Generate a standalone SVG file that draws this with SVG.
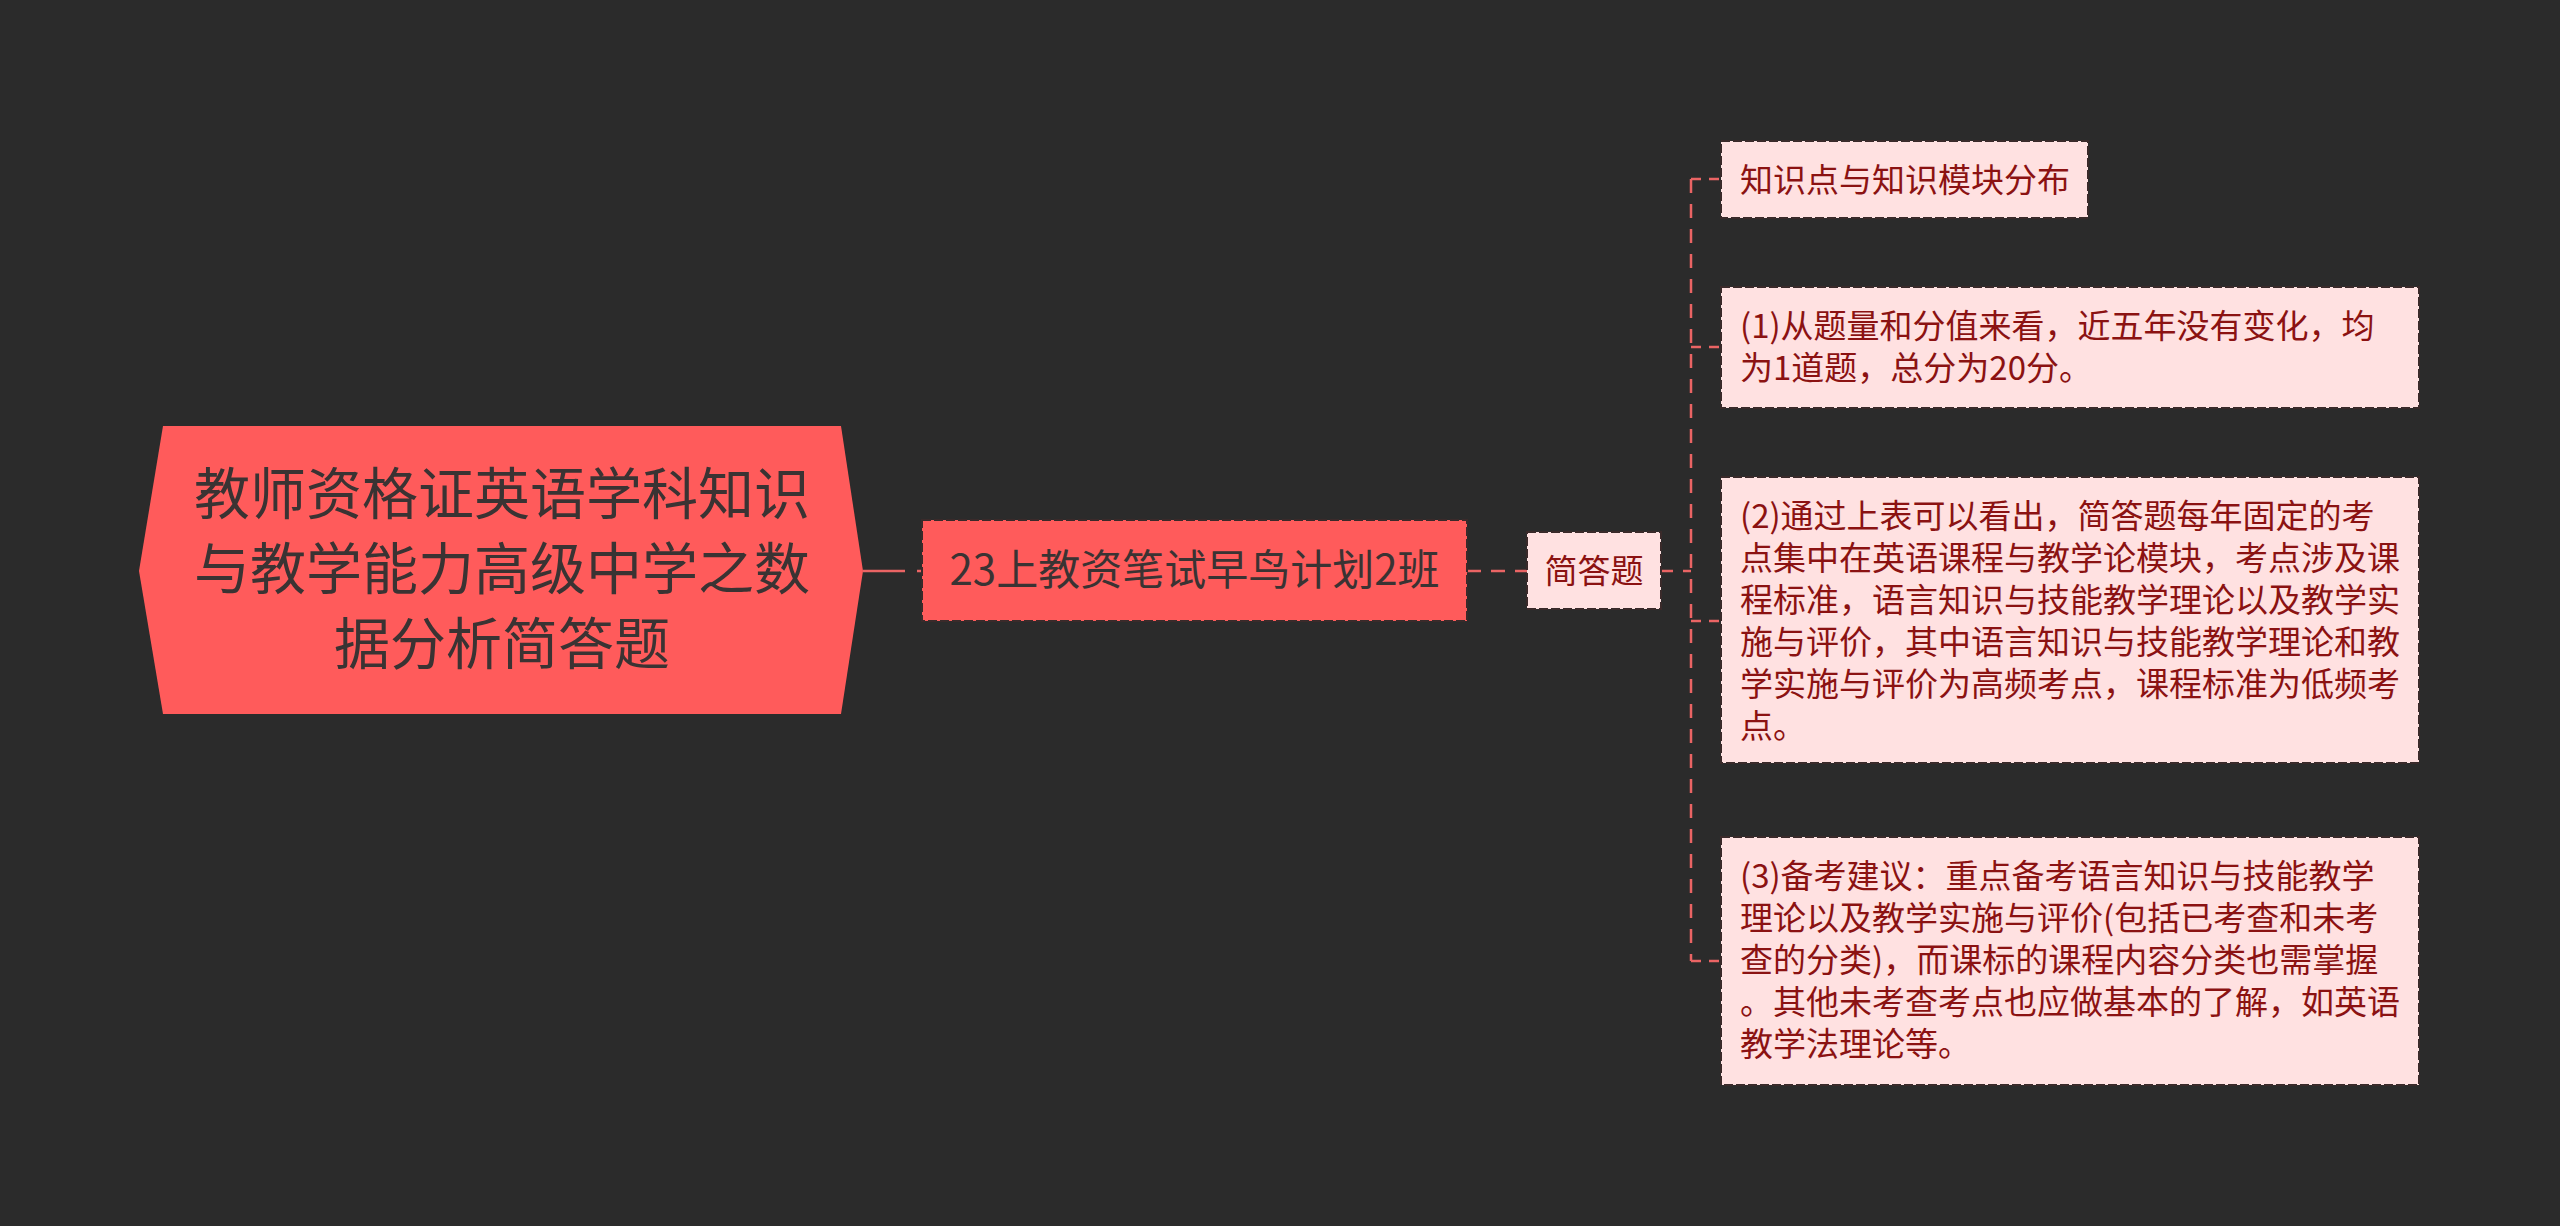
<svg xmlns="http://www.w3.org/2000/svg" width="2560" height="1226" viewBox="0 0 2560 1226">
<defs>
<style>
.bg{fill:#2b2b2b}
.root{fill:#ff5b5b}
.mid{fill:#ff5b5b;stroke:#3a2a2a;stroke-width:2;stroke-dasharray:9 3}
.leaf{fill:#ffe1e1;stroke:#3a2a2a;stroke-width:2;stroke-dasharray:9 3}
.t-root{font-family:"Noto Sans CJK SC","Noto Sans",sans-serif;font-size:56px;fill:#3a3333;text-anchor:middle}
.t-mid{font-family:"Noto Sans CJK SC","Noto Sans",sans-serif;font-size:42px;fill:#3a3333;text-anchor:middle}
.t-sub{font-family:"Noto Sans CJK SC","Noto Sans",sans-serif;font-size:33px;fill:#8b1212;text-anchor:middle}
.t-leaf{font-family:"Noto Sans CJK SC","Noto Sans",sans-serif;font-size:33px;fill:#8b1212}
.c{fill:none;stroke:#ea6464;stroke-width:2.5}
</style>
</defs>
<rect class="bg" x="0" y="0" width="2560" height="1226"/>

<g id="connectors">
<line class="c" x1="863" y1="571" x2="922" y2="571" stroke-dasharray="42 12"/>
<line class="c" x1="1467" y1="571" x2="1527" y2="571" stroke-dasharray="14 10"/>
<line class="c" x1="1661" y1="571" x2="1691" y2="571" stroke-dasharray="12 10"/>
<line class="c" x1="1691" y1="179" x2="1691" y2="961" stroke-dasharray="14 11"/>
<line class="c" x1="1691" y1="179" x2="1721" y2="179" stroke-dasharray="10 8"/>
<line class="c" x1="1691" y1="347" x2="1721" y2="347" stroke-dasharray="10 8"/>
<line class="c" x1="1691" y1="621" x2="1721" y2="621" stroke-dasharray="10 8"/>
<line class="c" x1="1691" y1="961" x2="1721" y2="961" stroke-dasharray="10 8"/>
</g>

<g id="root">
<polygon class="root" points="163,426 841,426 863,571 841,714 163,714 139,571"/>
<text class="t-root" x="502" y="514">教师资格证英语学科知识</text>
<text class="t-root" x="502" y="589">与教学能力高级中学之数</text>
<text class="t-root" x="502" y="664">据分析简答题</text>
</g>

<g id="node-class">
<rect class="mid" x="922" y="520" width="545" height="101"/>
<text class="t-mid" x="1194.5" y="585">23上教资笔试早鸟计划2班</text>
</g>

<g id="node-jiandati">
<rect class="leaf" x="1527" y="532" width="134" height="77"/>
<text class="t-sub" x="1594" y="583">简答题</text>
</g>

<g id="leaf-1">
<rect class="leaf" x="1721" y="141" width="367" height="77"/>
<text class="t-leaf" x="1740" y="192">知识点与知识模块分布</text>
</g>

<g id="leaf-2">
<rect class="leaf" x="1721" y="287" width="698" height="121"/>
<text class="t-leaf" x="1740" y="338">(1)从题量和分值来看，近五年没有变化，均</text>
<text class="t-leaf" x="1740" y="380">为1道题，总分为20分。</text>
</g>

<g id="leaf-3">
<rect class="leaf" x="1721" y="477" width="698" height="286"/>
<text class="t-leaf" x="1740" y="528">(2)通过上表可以看出，简答题每年固定的考</text>
<text class="t-leaf" x="1740" y="570">点集中在英语课程与教学论模块，考点涉及课</text>
<text class="t-leaf" x="1740" y="612">程标准，语言知识与技能教学理论以及教学实</text>
<text class="t-leaf" x="1740" y="654">施与评价，其中语言知识与技能教学理论和教</text>
<text class="t-leaf" x="1740" y="696">学实施与评价为高频考点，课程标准为低频考</text>
<text class="t-leaf" x="1740" y="738">点。</text>
</g>

<g id="leaf-4">
<rect class="leaf" x="1721" y="837" width="698" height="248"/>
<text class="t-leaf" x="1740" y="888">(3)备考建议：重点备考语言知识与技能教学</text>
<text class="t-leaf" x="1740" y="930">理论以及教学实施与评价(包括已考查和未考</text>
<text class="t-leaf" x="1740" y="972">查的分类)，而课标的课程内容分类也需掌握</text>
<text class="t-leaf" x="1740" y="1014">。其他未考查考点也应做基本的了解，如英语</text>
<text class="t-leaf" x="1740" y="1056">教学法理论等。</text>
</g>
</svg>
